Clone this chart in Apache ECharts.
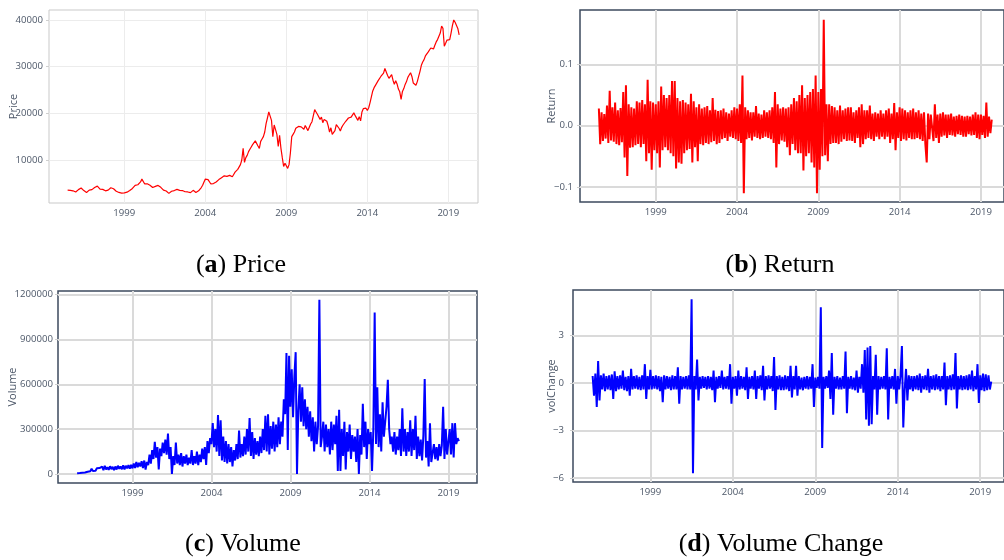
<!DOCTYPE html>
<html>
<head>
<meta charset="utf-8">
<script src="https://cdn.jsdelivr.net/npm/echarts@6/dist/echarts.min.js"></script>
<style>
  html, body { margin: 0; padding: 0; background: #fff; }
  #main { width: 1004px; height: 560px; }
</style>
</head>
<body>
<div id="main"></div>
<script>
// monthly observations, first one is July 1995
const startYear = 1995.5;

const yearTicks = [1999, 2004, 2009, 2014, 2019];
const priceTicks = [10000, 20000, 30000, 40000];
const returnTicks = [-0.1, 0, 0.1];
const volumeTicks = [0, 300000, 600000, 900000, 1200000];
const volChangeTicks = [-6, -3, 0, 3];

const priceValues = [
  3550, 3620, 3500, 3650, 3400, 3200,
  3150, 3400, 3650, 3850, 4000, 3750, 3450, 3200, 3050, 3300, 3550, 3700,
  3650, 3850, 4100, 4350, 4400, 4000, 3750, 3600, 3700, 3500, 3400, 3450,
  3550, 3800, 4050, 4150, 3850, 3550, 3300, 3200, 3050, 2950, 2900, 3000,
  2950, 2900, 3100, 3300, 3450, 3700, 3900, 4200, 4550, 4800, 4700, 4950,
  5300, 5900, 5500, 4900, 4600, 4900, 5100, 4600, 4300, 4100, 4250, 4350,
  4300, 4550, 4450, 4150, 3800, 3550, 3450, 3350, 3000, 2850, 3100, 3300,
  3350, 3450, 3650, 3700, 3600, 3500, 3400, 3450, 3350, 3200, 3300, 3150,
  3100, 3000, 3250, 3500, 3300, 3050, 3150, 3400, 3600, 4100, 4600, 5300,
  5900, 6100, 5800, 5900, 4900, 4700, 4950, 5100, 5300, 5500, 5800, 6000,
  6200, 6500, 6600, 6800, 6500, 6800, 6700, 6500, 6400, 6900, 7400, 7800,
  8000, 8400, 9000, 10000, 12500, 9500, 10500, 11000, 11800, 12300, 12800, 13300,
  13600, 14100, 14300, 13000, 12500, 14000, 14500, 15000, 16000, 17800, 19000, 20300,
  20700, 18500, 15000, 17500, 16500, 15500, 12900, 15300, 12500, 10500, 8600, 9300,
  8900, 8200, 9000, 11500, 15000, 15500, 16000, 16800, 16400, 17200, 16800, 17100,
  17300, 16600, 17400, 17200, 16300, 17000, 17700, 18200, 18500, 20800, 20300, 19800,
  19500, 18700, 19200, 18000, 18700, 19100, 18300, 17300, 16000, 16900, 15500, 15700,
  16300, 17600, 17900, 16800, 16200, 17000, 17500, 17200, 18300, 18700, 19000, 18900,
  19200, 19600, 20100, 19500, 19900, 18500, 19300, 18400, 20300, 21000, 20800, 21100,
  20600, 21200, 22300, 22600, 24800, 25500, 26000, 26300, 27000, 26800, 27900, 27600,
  28600, 29600, 29300, 28100, 27500, 27900, 28300, 27100, 26200, 27000, 26300, 25200,
  24600, 23000, 24700, 25300, 26200, 26800, 27700, 28200, 28700, 27900, 26500, 26300,
  26000, 26800, 27900, 29000, 30300, 31000, 31500, 32300, 32700, 33100, 33500, 34000,
  34400, 33800, 34600, 35300, 35800, 36500, 37200, 38700, 38200, 34400, 35000, 35700,
  36100, 35800, 37200, 38800, 40000, 39500, 39800, 38200, 36800
];

const returnValues = [
  0.028, -0.030, 0.022, -0.025, 0.019, -0.021,
  0.033, -0.028, 0.057, -0.024, 0.030, -0.026, 0.038, -0.030, 0.025, -0.032, 0.029, -0.027,
  0.055, -0.052, 0.066, -0.082, 0.035, -0.036, 0.030, -0.035, 0.028, -0.032, 0.040, -0.030,
  0.038, -0.035, 0.042, -0.030, 0.035, -0.058, 0.075, -0.045, 0.040, -0.072, 0.038, -0.040,
  0.035, -0.045, 0.040, -0.068, 0.064, -0.040, 0.050, -0.035, 0.045, -0.040, 0.050, -0.045,
  0.073, -0.050, 0.073, -0.070, 0.045, -0.060, 0.040, -0.062, 0.042, -0.045, 0.038, -0.040,
  0.035, -0.038, 0.052, -0.060, 0.040, -0.035, 0.030, -0.058, 0.035, -0.030, 0.028, -0.032,
  0.030, -0.028, 0.032, -0.030, 0.025, -0.027, 0.045, -0.025, 0.026, -0.030, 0.024, -0.028,
  0.025, -0.022, 0.028, -0.020, 0.022, -0.025, 0.020, -0.018, 0.025, -0.020, 0.030, -0.022,
  0.028, -0.025, 0.035, -0.028, 0.082, -0.110, 0.030, -0.022, 0.025, -0.020, 0.022, -0.024,
  0.022, -0.018, 0.032, -0.020, 0.020, -0.022, 0.018, -0.020, 0.025, -0.018, 0.022, -0.020,
  0.025, -0.022, 0.030, -0.028, 0.055, -0.068, 0.035, -0.030, 0.028, -0.024, 0.030, -0.026,
  0.028, -0.035, 0.030, -0.048, 0.035, -0.030, 0.045, -0.040, 0.040, -0.045, 0.050, -0.045,
  0.066, -0.073, 0.045, -0.050, 0.050, -0.045, 0.055, -0.060, 0.060, -0.068, 0.082, -0.110,
  0.055, -0.072, 0.060, -0.050, 0.173, -0.048, 0.035, -0.058, 0.035, -0.030, 0.032, -0.028,
  0.030, -0.028, 0.025, -0.030, 0.033, -0.026, 0.025, -0.022, 0.028, -0.025, 0.030, -0.024,
  0.030, -0.025, 0.022, -0.028, 0.025, -0.020, 0.030, -0.035, 0.035, -0.030, 0.025, -0.022,
  0.025, -0.020, 0.033, -0.022, 0.020, -0.025, 0.022, -0.018, 0.020, -0.022, 0.025, -0.018,
  0.020, -0.022, 0.025, -0.018, 0.028, -0.028, 0.020, -0.022, 0.037, -0.040, 0.022, -0.020,
  0.030, -0.025, 0.028, -0.022, 0.025, -0.024, 0.022, -0.020, 0.025, -0.022, 0.028, -0.022,
  0.022, -0.020, 0.025, -0.022, 0.020, -0.025, 0.022, -0.030, -0.060, 0.020, -0.022, 0.018,
  0.018, -0.025, 0.035, -0.020, 0.018, -0.028, 0.020, -0.018, 0.022, -0.016, 0.018, -0.020,
  0.018, -0.015, 0.020, -0.016, 0.015, -0.018, 0.016, -0.014, 0.018, -0.015, 0.016, -0.018,
  0.015, -0.018, 0.016, -0.014, 0.015, -0.016, 0.018, -0.015, 0.022, -0.020, 0.018, -0.022,
  0.018, -0.015, 0.016, -0.020, 0.038, -0.018, 0.015, -0.012, 0.010
];

const volumeValues = [
  5000, 9000, 6000, 12000, 8000, 15000,
  10000, 20000, 15000, 28000, 18000, 35000, 20000, 30000, 22000, 38000, 25000, 40000,
  28000, 50000, 25000, 55000, 30000, 45000, 28000, 52000, 32000, 48000, 25000, 50000,
  30000, 55000, 35000, 50000, 32000, 58000, 30000, 55000, 38000, 60000, 35000, 62000,
  38000, 70000, 40000, 80000, 45000, 75000, 50000, 85000, 40000, 90000, 30000, 80000,
  60000, 130000, 70000, 160000, 100000, 215000, 110000, 180000, 30000, 170000, 120000, 210000,
  140000, 230000, 130000, 270000, 100000, 180000, 0, 120000, 60000, 210000, 70000, 130000,
  60000, 140000, 50000, 120000, 70000, 130000, 60000, 110000, 70000, 160000, 60000, 120000,
  70000, 150000, 60000, 130000, 80000, 170000, 100000, 180000, 60000, 220000, 140000, 240000,
  200000, 340000, 180000, 300000, 150000, 395000, 120000, 360000, 90000, 250000, 80000, 220000,
  70000, 200000, 80000, 180000, 50000, 160000, 90000, 200000, 100000, 290000, 110000, 200000,
  120000, 250000, 130000, 300000, 150000, 375000, 120000, 280000, 100000, 240000, 130000, 220000,
  120000, 250000, 140000, 300000, 160000, 390000, 150000, 400000, 130000, 320000, 170000, 350000,
  150000, 330000, 180000, 380000, 200000, 350000, 250000, 500000, 400000, 810000, 160000, 790000,
  450000, 700000, 380000, 650000, 815000, 0, 420000, 600000, 350000, 580000, 320000, 500000,
  300000, 450000, 250000, 420000, 220000, 380000, 150000, 350000, 200000, 320000, 1165000, 180000,
  250000, 350000, 150000, 330000, 180000, 300000, 130000, 350000, 160000, 330000, 200000, 390000,
  20000, 430000, 20000, 300000, 120000, 350000, 30000, 280000, 150000, 330000, 100000, 260000,
  150000, 250000, 80000, 300000, 0, 260000, 130000, 470000, 180000, 350000, 100000, 300000,
  200000, 280000, 20000, 300000, 1080000, 200000, 580000, 180000, 400000, 150000, 480000, 250000,
  250000, 450000, 630000, 300000, 200000, 250000, 150000, 280000, 130000, 250000, 160000, 300000,
  120000, 440000, 150000, 300000, 120000, 280000, 150000, 360000, 120000, 300000, 160000, 390000,
  100000, 250000, 120000, 230000, 90000, 260000, 635000, 110000, 220000, 50000, 340000, 80000,
  80000, 200000, 100000, 180000, 90000, 200000, 120000, 190000, 450000, 100000, 300000, 130000,
  120000, 300000, 130000, 340000, 110000, 340000, 200000, 240000, 220000
];

const volChangeValues = [
  0.45, -0.8, 0.6, -1.5, 1.4, -1.1,
  0.5, -0.4, 0.6, -0.5, 0.45, -0.4, 0.5, -0.45, 0.55, -1.0, 0.75, -0.5,
  0.45, -0.4, 0.5, -0.35, 0.8, -0.45, 0.4, -0.5, 0.45, -0.8, 0.9, -0.4,
  0.45, -0.35, 0.5, -0.4, 0.4, -0.45, 0.5, -0.4, 1.2, -1.0, 0.45, -0.4,
  0.85, -0.4, 0.45, -0.35, 0.5, -0.4, 0.45, -0.5, 0.4, -1.2, 0.5, -0.4,
  0.45, -0.35, 0.4, -0.45, 0.5, -0.4, 0.45, -0.4, 1.0, -1.3, 0.45, -0.4,
  0.4, -0.35, 0.45, -0.4, 0.5, -0.4, 5.3, -5.7, 0.45, -0.4, 1.5, -1.1,
  0.4, -0.35, 0.45, -0.3, 0.4, -0.4, 0.45, -0.35, 0.4, -0.45, 0.8, -1.2,
  0.4, -0.35, 0.45, -0.3, 0.8, -0.4, 0.4, -0.35, 0.45, -0.4, 1.2, -1.3,
  0.4, -0.35, 0.45, -0.8, 0.8, -0.4, 0.45, -0.35, 0.4, -0.45, 1.0, -1.0,
  0.4, -0.35, 0.45, -0.4, 0.8, -1.0, 0.45, -0.35, 0.5, -0.45, 1.1, -1.1,
  0.45, -0.4, 0.5, -0.35, 0.45, -0.5, 1.65, -1.7, 0.45, -0.4, 0.5, -0.45,
  0.4, -0.45, 0.5, -0.4, 0.45, -0.5, 1.1, -0.9, 0.45, -0.4, 1.1, -0.8,
  0.45, -0.4, 0.35, -0.45, 0.4, -0.35, 0.45, -0.4, 0.4, -0.35, 1.2, -1.5,
  0.35, -0.3, 0.4, -0.35, 4.8, -4.1, 0.4, -0.35, 0.45, -0.3, 0.8, -1.0,
  1.9, -2.0, 0.4, -0.35, 0.45, -0.4, 0.35, -0.4, 0.45, -0.35, 2.0, -1.9,
  0.4, -0.35, 0.45, -0.4, 0.35, -0.45, 0.8, -0.6, 0.4, -0.35, 1.2, -0.6,
  2.1, -2.3, 2.25, -2.7, 2.35, -2.6, 0.45, -0.4, 1.8, -2.0, 0.45, -0.4,
  0.4, -0.35, 0.45, -0.4, 2.2, -2.3, 0.4, -0.35, 0.45, -0.4, 0.9, -1.3,
  0.45, -0.4, 0.5, 2.35, -2.8, -0.45, 0.9, -1.1, 0.5, -0.4, 0.45, -0.5,
  0.45, -0.4, 0.5, -0.45, 0.6, -0.6, 0.45, -0.4, 0.5, -0.45, 0.9, -0.6,
  0.45, -0.4, 0.5, -0.45, 0.55, -0.4, 0.45, -0.5, 0.45, -0.4, 1.3, -1.4,
  0.45, -0.4, 0.5, -0.45, 0.55, -0.4, 1.9, -1.6, 0.45, -0.4, 0.5, -0.45,
  0.45, -0.4, 0.5, -0.45, 0.55, -0.4, 0.8, -0.5, 0.45, -0.4, 1.2, -1.25,
  0.5, -0.45, 0.6, -0.5, 0.55, -0.45, 0.5, -0.4, 0.1
];

const withDates = vals => vals.map((v, i) => [startYear + i / 12, v]);
const minus = s => s.replace('-', '\u2212');

const sans = '"Open Sans", "DejaVu Sans", sans-serif';
const labelColor = '#4b5667';

function xAxisFor(idx, min, max, gridColor, gridWidth) {
  return {
    type: 'value', gridIndex: idx, min: min, max: max,
    axisLine: { show: false },
    axisTick: { show: false, customValues: yearTicks },
    axisLabel: { customValues: yearTicks, color: labelColor, fontSize: 9.6, fontFamily: sans, margin: 5,
      formatter: v => String(v) },
    splitLine: { show: true, lineStyle: { color: gridColor, width: gridWidth } }
  };
}

function yAxisFor(idx, min, max, ticks, name, nameGap, margin, fmt, gridColor, gridWidth) {
  return {
    type: 'value', gridIndex: idx, min: min, max: max,
    name: name, nameLocation: 'middle', nameGap: nameGap, nameMoveOverlap: false,
    nameTextStyle: { color: labelColor, fontSize: 11, fontFamily: sans },
    axisLine: { show: false },
    axisTick: { show: true, length: 3, customValues: ticks, lineStyle: { color: '#cfcfcf' } },
    axisLabel: { customValues: ticks, color: labelColor, fontSize: 9.6, fontFamily: sans, margin: margin, formatter: fmt },
    splitLine: { show: true, lineStyle: { color: gridColor, width: gridWidth } }
  };
}

const darkBorder = '#3c4a5e';
const heavyGrid = '#dadada';
const captionFont = '"Liberation Serif", serif';

const chart = echarts.init(document.getElementById('main'), null, { renderer: 'canvas' });

chart.setOption({
  animation: false,
  backgroundColor: '#ffffff',
  grid: [
    { left: 49, top: 10, width: 429, height: 193, show: true, borderColor: '#c9c9c9', borderWidth: 1, backgroundColor: '#fff' },
    { left: 580, top: 10, width: 428, height: 192, show: true, borderColor: darkBorder, borderWidth: 1.5, backgroundColor: '#fff' },
    { left: 58, top: 291, width: 419, height: 192, show: true, borderColor: darkBorder, borderWidth: 1.5, backgroundColor: '#fff' },
    { left: 573, top: 290, width: 435, height: 192, show: true, borderColor: darkBorder, borderWidth: 1.5, backgroundColor: '#fff' }
  ],
  xAxis: [
    xAxisFor(0, 1994.35, 2020.83, '#ececec', 1),
    xAxisFor(1, 1994.34, 2020.42, heavyGrid, 2),
    xAxisFor(2, 1994.29, 2020.81, heavyGrid, 2),
    xAxisFor(3, 1994.31, 2020.44, heavyGrid, 2)
  ],
  yAxis: [
    yAxisFor(0, 786, 42140, priceTicks, 'Price', 30, 6, v => String(v), '#ececec', 1),
    yAxisFor(1, -0.1245, 0.1888, returnTicks, 'Return', 23, 7, v => minus(v.toFixed(1)), heavyGrid, 2),
    yAxisFor(2, -60200, 1224000, volumeTicks, 'Volume', 40, 5, v => String(v), heavyGrid, 2),
    yAxisFor(3, -6.25, 5.89, volChangeTicks, 'volChange', 16, 9, v => minus(String(v)), heavyGrid, 2)
  ],
  series: [
    { type: 'line', xAxisIndex: 0, yAxisIndex: 0, data: withDates(priceValues), showSymbol: false,
      lineStyle: { color: '#ff0000', width: 1.2 }, itemStyle: { color: '#ff0000' } },
    { type: 'line', xAxisIndex: 1, yAxisIndex: 1, data: withDates(returnValues), showSymbol: false,
      lineStyle: { color: '#ff0000', width: 2 }, itemStyle: { color: '#ff0000' } },
    { type: 'line', xAxisIndex: 2, yAxisIndex: 2, data: withDates(volumeValues), showSymbol: false,
      lineStyle: { color: '#0000ff', width: 2 }, itemStyle: { color: '#0000ff' } },
    { type: 'line', xAxisIndex: 3, yAxisIndex: 3, data: withDates(volChangeValues), showSymbol: false,
      lineStyle: { color: '#0000ff', width: 2 }, itemStyle: { color: '#0000ff' } }
  ],
  graphic: [
    ['a', 'Price', 241, 265],
    ['b', 'Return', 780, 265],
    ['c', 'Volume', 243, 544],
    ['d', 'Volume Change', 781, 544]
  ].map(([letter, label, x, y]) => ({
    type: 'text', x: x, y: y,
    style: {
      text: '({b|' + letter + '}) ' + label,
      fontSize: 26, fontFamily: captionFont, fill: '#000',
      align: 'center', verticalAlign: 'middle',
      rich: { b: { fontSize: 26, fontFamily: captionFont, fontWeight: 'bold', fill: '#000' } }
    }
  }))
});
</script>
</body>
</html>
